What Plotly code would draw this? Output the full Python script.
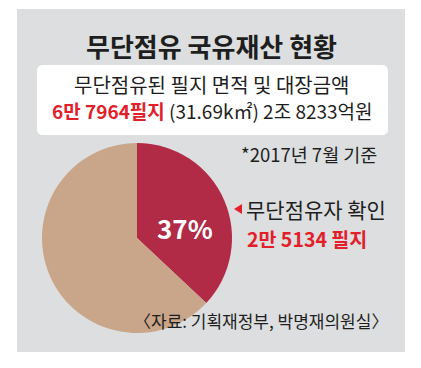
import plotly.graph_objects as go

W, H = 421, 368

# Data
slice_labels = ["무단점유자 확인", "기타"]
slice_shares = [37, 63]
total_parcels_text = "6만 7964필지"
area_text = "(31.69k㎡)"
amount_text = "2조 8233억원"
confirmed_text = "2만 5134 필지"
pct_text = "37%"

title_text = "무단점유 국유재산 현황"
box_line1 = "무단점유된 필지 면적 및 대장금액"
date_text = "*2017년 7월 기준"
source_text = "〈자료: 기획재정부, 박명재의원실〉"

RED_SLICE = "#b12a46"
BEIGE = "#c9a689"
PANEL = "#dddedf"
RED_TEXT = "#e3202a"
DARK = "#1e1e1e"
FONT = "Noto Sans CJK KR"


def px(x):
    return x / W


def py(y):
    return 1 - y / H


fig = go.Figure()

# pie: center (137,238), radius 95
fig.add_trace(go.Pie(
    labels=slice_labels,
    values=slice_shares,
    sort=False,
    direction="clockwise",
    rotation=0,
    marker=dict(colors=[RED_SLICE, BEIGE], line=dict(width=0)),
    textinfo="none",
    hoverinfo="skip",
    showlegend=False,
    domain=dict(x=[px(42), px(232)], y=[py(333), py(143)]),
))

shapes = []
# gray panel
shapes.append(dict(type="rect", xref="paper", yref="paper",
                   x0=px(17), x1=px(405), y0=py(352), y1=py(9),
                   fillcolor=PANEL, line=dict(width=0), layer="below"))
# rounded white box
x0, x1, y0, y1, r = 37, 388, 65, 135, 6
path = (f"M {px(x0+r)},{py(y0)} L {px(x1-r)},{py(y0)} "
        f"Q {px(x1)},{py(y0)} {px(x1)},{py(y0+r)} "
        f"L {px(x1)},{py(y1-r)} Q {px(x1)},{py(y1)} {px(x1-r)},{py(y1)} "
        f"L {px(x0+r)},{py(y1)} Q {px(x0)},{py(y1)} {px(x0)},{py(y1-r)} "
        f"L {px(x0)},{py(y0+r)} Q {px(x0)},{py(y0)} {px(x0+r)},{py(y0)} Z")
shapes.append(dict(type="path", xref="paper", yref="paper", path=path,
                   fillcolor="white", line=dict(width=0), layer="below"))
# red pointer triangle
shapes.append(dict(type="path", xref="paper", yref="paper",
                   path=f"M {px(234)},{py(209)} L {px(242)},{py(204)} L {px(242)},{py(214)} Z",
                   fillcolor=RED_TEXT, line=dict(width=0)))

ann = []


def add(text, x, y, size, color=DARK, xanchor="center"):
    ann.append(dict(text=text, x=px(x), y=py(y), xref="paper", yref="paper",
                    showarrow=False, xanchor=xanchor, yanchor="middle",
                    font=dict(family=FONT, size=size, color=color)))


add(f"<b>{title_text}</b>", 211, 45, 26)
add(box_line1, 212, 84, 20)
add(f"<span style='color:{RED_TEXT}'><b>{total_parcels_text}</b></span> {area_text} {amount_text}",
    212, 111, 19)
add(date_text, 379, 154, 18.5, xanchor="right")
add(f"<b>{pct_text}</b>", 185, 227, 26, color="white")
add(slice_labels[0], 244, 209, 21, xanchor="left")
add(f"<b>{confirmed_text}</b>", 245, 238, 19.5, color=RED_TEXT, xanchor="left")
add(source_text, 390, 320, 17, xanchor="right")

fig.update_layout(
    width=W, height=H,
    margin=dict(l=0, r=0, t=0, b=0),
    paper_bgcolor="white",
    plot_bgcolor="white",
    shapes=shapes,
    annotations=ann,
)

fig.write_html("out.html", config={"displayModeBar": False},
               post_script="document.body.style.margin='0';")
